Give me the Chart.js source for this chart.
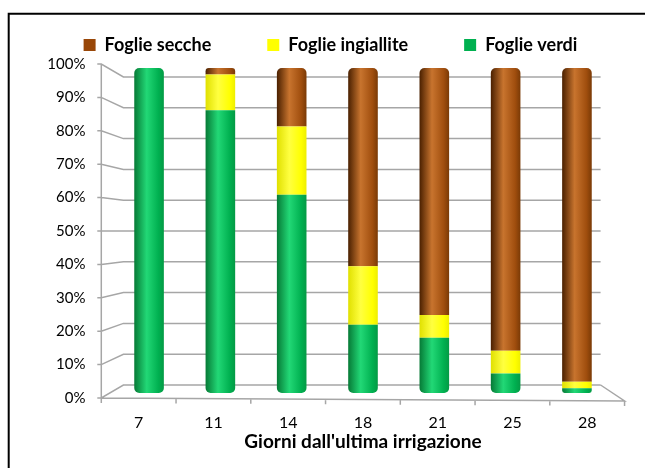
<!DOCTYPE html>
<html>
<head>
<meta charset="utf-8">
<script src="https://cdn.jsdelivr.net/npm/chart.js@4/dist/chart.umd.min.js"></script>
<style>
  html, body { margin: 0; padding: 0; background: #fff; }
  canvas { display: block; }
</style>
</head>
<body>
<canvas id="grafico" width="645" height="468"></canvas>
<script>
// dati (percentuali per giorno)
const giorni = ['7', '11', '14', '18', '21', '25', '28'];
const verdi = [100, 87, 61, 21, 17, 6, 1.5];
const ingiallite = [0, 11, 21, 18, 7, 7, 2];
const secche = [0, 2, 18, 61, 76, 87, 96.5];
const percentTicks = [0, 10, 20, 30, 40, 50, 60, 70, 80, 90, 100];

const legendColors = ['#00b050', '#ffff00', '#994708'];

// cilindro: gradiente orizzontale sulla larghezza della barra
function cylinder(dark, light, base, edge) {
    return function(ctx) {
        const chart = ctx.chart;
        const xs = chart.scales.x;
        if (!xs || !xs.width) return base;
        const cx = xs.getPixelForValue(ctx.dataIndex);
        const half = xs.width / giorni.length * 0.415 / 2;
        const g = chart.ctx.createLinearGradient(cx - half, 0, cx + half, 0);
        g.addColorStop(0, dark);
        g.addColorStop(0.42, light);
        g.addColorStop(0.82, base);
        g.addColorStop(1, edge);
        return g;
    };
}

// arrotonda solo le estremita' della pila
function capRadius(ctx) {
    const i = ctx.dataIndex;
    const r = { topLeft: 0, topRight: 0, bottomLeft: 0, bottomRight: 0 };
    const stack = [verdi[i], ingiallite[i], secche[i]];
    let top = 2;
    while (top > 0 && !stack[top]) top--;
    if (ctx.datasetIndex === top) { r.topLeft = 5; r.topRight = 5; }
    if (ctx.datasetIndex === 0) { r.bottomLeft = 5; r.bottomRight = 5; }
    return r;
}

// pareti e pavimento in prospettiva
const scena = {
    id: 'scena',
    beforeDraw(chart) {
        const c = chart.ctx;
        c.save();
        c.fillStyle = '#fff';
        c.fillRect(0, 0, chart.width, chart.height);
        c.strokeStyle = '#000';
        c.lineWidth = 2;
        c.beginPath();
        c.moveTo(8.7, chart.height);
        c.lineTo(8.7, 13.7);
        c.lineTo(chart.width, 13.7);
        c.stroke();
        c.restore();
    },
    beforeDatasetsDraw(chart) {
        const c = chart.ctx;
        const ca = chart.chartArea;
        const yf = chart.scales.y;
        const xl = chart.scales.xl;
        const wallL = ca.left + 10, wallR = ca.right - 12;
        const wallT = ca.top + 13, wallB = ca.bottom - 13;
        const fx = xl.getPixelForValue(-0.5);
        const fr = xl.getPixelForValue(giorni.length - 0.5);
        c.save();
        c.strokeStyle = '#a6a6a6';
        c.lineWidth = 1.5;
        c.beginPath();
        yf.ticks.forEach(t => {
            const fy = yf.getPixelForValue(t.value);
            const by = wallB - (t.value - yf.min) / (yf.max - yf.min) * (wallB - wallT);
            c.moveTo(fx - 4, fy);
            c.lineTo(fx, fy);
            c.lineTo(wallL, by);
            c.lineTo(wallR, by);
        });
        c.moveTo(fx, yf.top);
        c.lineTo(fx, yf.bottom);
        c.moveTo(fx, ca.bottom);
        c.lineTo(fr, ca.bottom + 3);
        c.lineTo(wallR, wallB);
        for (let i = 0; i <= giorni.length; i++) {
            const x = xl.getPixelForValue(i - 0.5);
            const y = ca.bottom + 3 * (x - fx) / (fr - fx);
            c.moveTo(x, y);
            c.lineTo(x, y + 5);
        }
        c.stroke();
        c.restore();
    }
};

const ctx = document.getElementById('grafico').getContext('2d');
const chart = new Chart(ctx, {
    type: 'bar',
    data: {
        labels: giorni,
        datasets: [
            {
                label: 'Foglie verdi',
                data: verdi,
                backgroundColor: cylinder('#067a36', '#22d876', '#00b050', '#049a45')
            },
            {
                label: 'Foglie ingiallite',
                data: ingiallite,
                backgroundColor: cylinder('#e0e000', '#ffff40', '#ffff00', '#eeee00')
            },
            {
                label: 'Foglie secche',
                data: secche,
                backgroundColor: cylinder('#4a2000', '#c8742e', '#a04e0e', '#7a3a06')
            }
        ]
    },
    options: {
        responsive: false,
        animation: false,
        layout: { padding: { top: -20, left: 16, right: 0, bottom: 0 } },
        datasets: {
            bar: {
                xAxisID: 'x',
                yAxisID: 'yb',
                categoryPercentage: 1,
                barPercentage: 0.415,
                borderWidth: 0,
                borderSkipped: false,
                borderRadius: capRadius
            }
        },
        plugins: {
            legend: {
                position: 'top',
                reverse: true,
                labels: {
                    color: '#000',
                    font: { family: 'Lato', size: 18, weight: 'bold' },
                    boxWidth: 12,
                    boxHeight: 12,
                    padding: 56,
                    generateLabels(chart) {
                        const items = Chart.defaults.plugins.legend.labels.generateLabels(chart);
                        items.forEach(it => {
                            it.fillStyle = legendColors[it.datasetIndex];
                            it.strokeStyle = legendColors[it.datasetIndex];
                            it.lineWidth = 0;
                        });
                        return items;
                    }
                }
            },
            tooltip: { enabled: false }
        },
        scales: {
            x: {
                display: false,
                stacked: true
            },
            yb: {
                display: false,
                stacked: true,
                min: -1.538,
                max: 101.23
            },
            y: {
                position: 'left',
                min: 0,
                max: 100,
                grid: { display: false, drawTicks: false },
                border: { display: false },
                afterFit(scale) { scale.width = 97.4; },
                afterBuildTicks(scale) {
                    scale.ticks = percentTicks.map(v => ({ value: v }));
                },
                ticks: {
                    padding: 28,
                    color: '#000',
                    font: { family: 'Lato', size: 15 },
                    callback: v => v + '%'
                }
            },
            // margine destro vuoto
            yr: {
                position: 'right',
                min: 0,
                max: 1,
                grid: { display: false, drawTicks: false },
                border: { display: false },
                ticks: { display: false },
                afterFit(scale) { scale.width = 32.4; }
            },
            xl: {
                type: 'linear',
                position: 'bottom',
                offset: false,
                min: -0.338,
                max: 6.34,
                grid: { display: false, drawTicks: false, offset: false },
                border: { display: false },
                afterFit(scale) { scale.height = 70; },
                afterBuildTicks(scale) {
                    scale.ticks = giorni.map((g, i) => ({ value: i }));
                },
                ticks: {
                    padding: 15,
                    color: '#000',
                    autoSkip: false,
                    maxRotation: 0,
                    font: { family: 'Lato', size: 16 },
                    callback: v => giorni[v]
                },
                title: {
                    display: true,
                    text: "Giorni dall'ultima irrigazione",
                    color: '#000',
                    font: { family: 'Lato', size: 19, weight: 'bold' },
                    padding: { top: 0, bottom: 15 }
                }
            }
        }
    },
    plugins: [scena]
});
</script>
</body>
</html>
